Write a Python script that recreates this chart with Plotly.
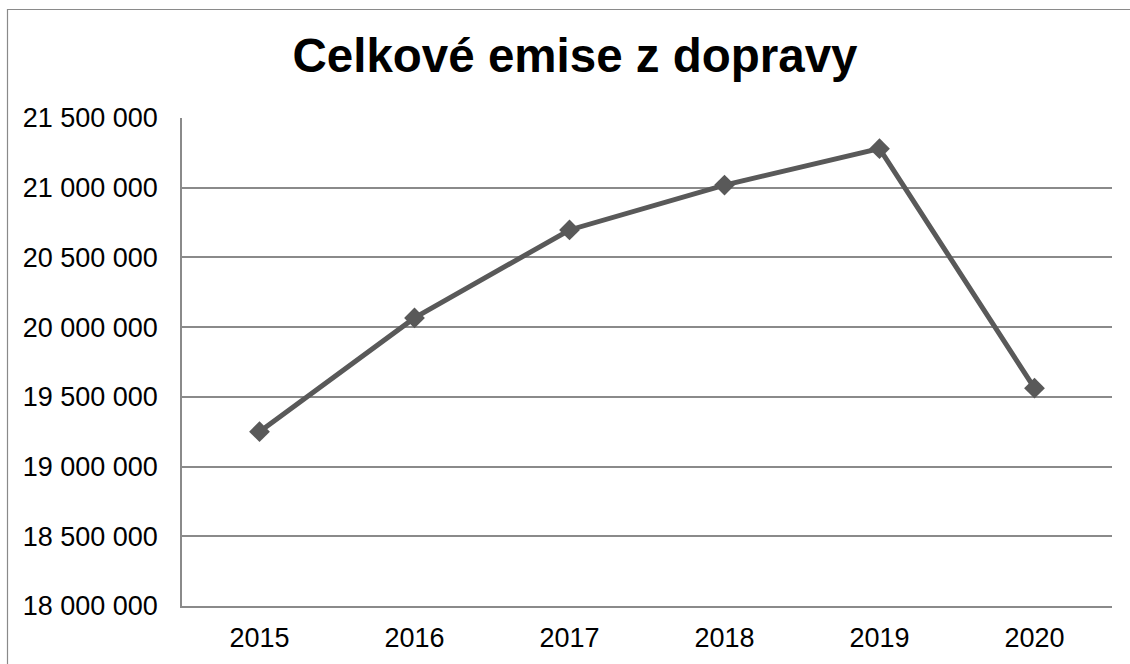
import plotly.graph_objects as go

years = ["2015", "2016", "2017", "2018", "2019", "2020"]
emissions = [19250000, 20066000, 20697000, 21019000, 21280000, 19562000]
title_text = "Celkové emise z dopravy"

W, H = 1130, 664
L, R, T, B = 182, 18, 118, 58
pw, ph = W - L - R, H - T - B

def px_x(p):
    return (p - L) / pw

def px_y(p):
    return (H - B - p) / ph

fig = go.Figure()
fig.add_trace(go.Scatter(
    x=years, y=emissions, mode="lines+markers",
    line=dict(color="#595959", width=5),
    marker=dict(symbol="diamond", size=16, color="#595959"),
    showlegend=False, cliponaxis=False,
))

fig.add_shape(type="rect", xref="paper", yref="paper",
              x0=px_x(7.5), x1=px_x(1145), y0=px_y(9.5), y1=px_y(690),
              line=dict(color="#8a8a8a", width=1.2), fillcolor="rgba(0,0,0,0)", layer="below")

fig.update_layout(
    width=W, height=H,
    margin=dict(l=L, r=R, t=T, b=B, pad=0),
    paper_bgcolor="white", plot_bgcolor="white",
    separators=", ",
    font=dict(family="Liberation Sans, Arial, sans-serif", size=27, color="black"),
    title=dict(text="<b>" + title_text + "</b>", x=575 / W, xanchor="center",
               y=1 - 55 / H, yanchor="middle",
               font=dict(size=47.5, color="black", family="Liberation Sans, Arial, sans-serif")),
)
fig.update_xaxes(type="category", range=[-0.5, len(years) - 0.5], showgrid=False,
                 showline=True, linecolor="#8a8a8a",
                 linewidth=1.5, ticks="", ticklabelstandoff=7, zeroline=False, automargin=False)
fig.update_yaxes(range=[18000000, 21500000], dtick=500000, tickformat=",d",
                 showgrid=True, gridcolor="#8a8a8a", gridwidth=1.5,
                 showline=True, linecolor="#8a8a8a", linewidth=1.5,
                 ticks="", ticklabelstandoff=17, zeroline=False, automargin=False)

fig.write_html("out.html", config={"displayModeBar": False},
               post_script="document.body.style.margin='0';document.body.style.overflow='hidden';")
